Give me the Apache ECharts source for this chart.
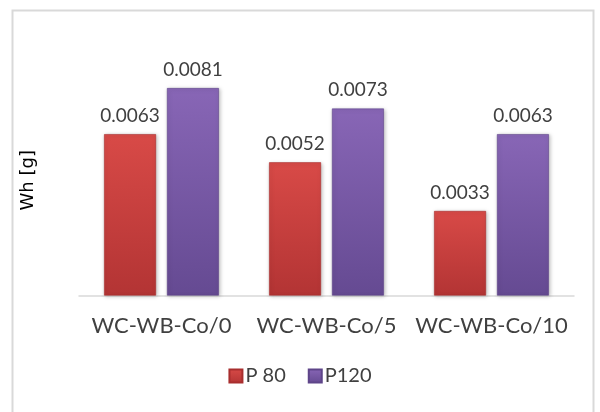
<!DOCTYPE html>
<html>
<head>
<meta charset="utf-8">
<script src="https://cdn.jsdelivr.net/npm/echarts@6/dist/echarts.min.js"></script>
<style>html,body{margin:0;padding:0;background:#fff}#c{width:600px;height:412px}</style>
</head>
<body>
<div id="c"></div>
<script>
var categories = ['WC-WB-Co/0', 'WC-WB-Co/5', 'WC-WB-Co/10'];
var p80 = [0.0063, 0.0052, 0.0033];
var p120 = [0.0081, 0.0073, 0.0063];
var seriesNames = ['P 80', 'P120'];

var chart = echarts.init(document.getElementById('c'));
var font = 'Lato, "Open Sans", sans-serif';
function grad(top, bottom) {
  return new echarts.graphic.LinearGradient(0, 0, 0, 1, [
    {offset: 0, color: top}, {offset: 1, color: bottom}
  ]);
}
chart.setOption({
  animation: false,
  graphic: [{
    type: 'rect', left: 10, top: 8,
    shape: {width: 581, height: 410},
    style: {fill: 'none', stroke: '#d9d9d9', lineWidth: 2}
  }],
  grid: {left: 79, right: 26, top: 65, bottom: 116.5},
  legend: {
    data: seriesNames,
    bottom: 21,
    left: 'center',
    itemWidth: 13, itemHeight: 13, itemGap: 22,
    icon: 'rect',
    textStyle: {fontFamily: font, fontSize: 20, color: '#404040', padding: [0, 0, 0, -2]}
  },
  xAxis: {
    type: 'category',
    data: categories,
    axisLine: {lineStyle: {color: '#d9d9d9', width: 1.5}},
    axisTick: {show: false},
    axisLabel: {fontFamily: font, fontSize: 22, color: '#404040', margin: 19, interval: 0, hideOverlap: false}
  },
  yAxis: {
    type: 'value',
    min: 0, max: 0.009,
    name: 'Wh [g]',
    nameLocation: 'middle',
    nameGap: 42,
    nameTextStyle: {fontFamily: 'DejaVu Sans, sans-serif', fontSize: 18, color: '#000'},
    axisLine: {show: false},
    axisTick: {show: false},
    axisLabel: {show: false},
    splitLine: {show: false}
  },
  series: [{
    name: seriesNames[0], type: 'bar', data: p80,
    barWidth: '31.5%', barGap: '21%',
    itemStyle: {color: grad('#d84a47', '#b33434'), borderColor: '#a82e2e', borderWidth: 0.6,
      shadowColor: 'rgba(0,0,0,0.25)', shadowBlur: 4, shadowOffsetX: 1, shadowOffsetY: 1},
    label: {show: true, position: 'top', distance: 9, fontFamily: font, fontSize: 19, color: '#404040'}
  }, {
    name: seriesNames[1], type: 'bar', data: p120,
    barWidth: '31.5%',
    itemStyle: {color: grad('#8866b6', '#654a92'), borderColor: '#5e4589', borderWidth: 0.6,
      shadowColor: 'rgba(0,0,0,0.25)', shadowBlur: 4, shadowOffsetX: 1, shadowOffsetY: 1},
    label: {show: true, position: 'top', distance: 9, fontFamily: font, fontSize: 19, color: '#404040'}
  }]
});
</script>
</body>
</html>
